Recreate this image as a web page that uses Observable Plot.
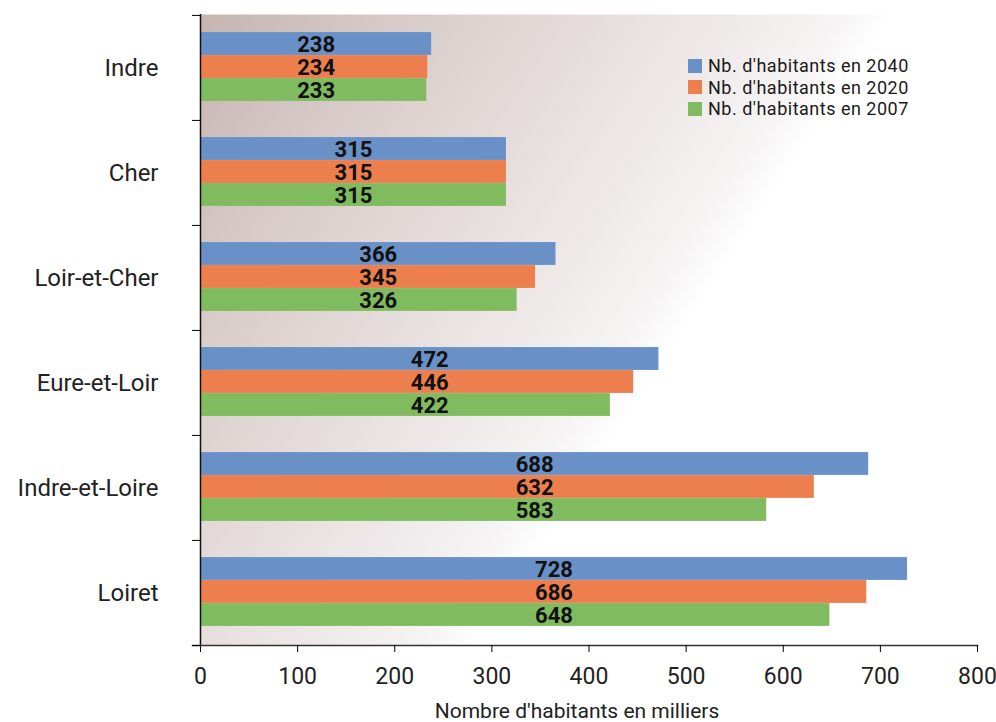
<!DOCTYPE html>
<html><head><meta charset="utf-8">
<script src="https://cdn.jsdelivr.net/npm/d3@7"></script>
<script src="https://cdn.jsdelivr.net/npm/@observablehq/plot@0.6"></script>
<style>
body{margin:0;background:#fff;}
#wrap{position:relative;width:996px;height:722px;}
.legend{position:absolute;left:688px;top:55px;font:18px Roboto, sans-serif;letter-spacing:0.5px;color:#1a1a1a;}
.legend div{display:flex;align-items:center;height:21.5px;white-space:nowrap;}
.legend .sw{width:14px;height:14px;margin-right:6px;display:inline-block;}
</style></head><body><div id="wrap"></div>
<script>
const categories = ["Indre","Cher","Loir-et-Cher","Eure-et-Loir","Indre-et-Loire","Loiret"];
const seriesNames = ["Nb. d'habitants en 2040","Nb. d'habitants en 2020","Nb. d'habitants en 2007"];
const values2040 = [238,315,366,472,688,728];
const values2020 = [234,315,345,446,632,686];
const values2007 = [233,315,326,422,583,648];
const xTicks = [0,100,200,300,400,500,600,700,800];
const xLabel = "Nombre d'habitants en milliers";
const colors = ["#6991c7","#ed7f4e","#80bc5f"];

const W = 996, H = 722, mT = 14, mB = 77, mL = 200, mR = 19;
const bw = (H - mT - mB) / categories.length;
const barH = 23;
const pad = (bw - 3 * barH) / 2 - 1;
const seriesValues = [values2040, values2020, values2007];
const rows = categories.map((c, i) => ({
  cat: c,
  v: seriesValues.map(s => s[i]),
  max: Math.max(...seriesValues.map(s => s[i]))
}));

const marks = [
  Plot.frame({fill: "url(#bgGrad)", stroke: null})
];
seriesValues.forEach((s, k) => {
  marks.push(Plot.barX(rows, {
    y: "cat", x: d => d.v[k], fill: colors[k],
    insetTop: pad + k * barH, insetBottom: bw - pad - (k + 1) * barH
  }));
});
seriesValues.forEach((s, k) => {
  marks.push(Plot.text(rows, {
    y: "cat", x: d => d.max / 2, text: d => String(d.v[k]),
    dy: -bw / 2 + pad + (k + 0.5) * barH + 1,
    fontSize: 22, fontWeight: "bold", fill: "#111"
  }));
});
marks.push(
  Plot.ruleX([0], {stroke: "#111", strokeWidth: 1.5}),
  Plot.frame({anchor: "bottom", stroke: "#333", strokeWidth: 1.5, insetLeft: -8}),
  Plot.axisX({ticks: xTicks, tickSize: 7, tickPadding: 15, fontSize: 23, fill: "#222", label: null}),
  Plot.text([xLabel], {frameAnchor: "bottom", lineAnchor: "middle", dy: 66, dx: -12, fontSize: 21, fill: "#222", text: d => d}),
  Plot.axisY({tickSize: 0, tickPadding: 42, fontSize: 24, fill: "#222", label: null}),
  Plot.axisY({tickSize: 8, tickFormat: () => "", dy: -bw / 2, label: null}),
  Plot.axisY({ticks: [categories[categories.length - 1]], tickSize: 8, tickFormat: () => "", dy: bw / 2, label: null})
);

const chart = Plot.plot({
  width: W, height: H,
  marginTop: mT, marginBottom: mB, marginLeft: mL, marginRight: mR,
  style: {fontFamily: "Roboto, sans-serif", background: "white"},
  x: {domain: [0, 800]},
  y: {domain: categories, padding: 0},
  marks
});

const svg = d3.select(chart);
const defs = svg.insert("defs", ":first-child");
const g = defs.append("linearGradient").attr("id", "bgGrad")
  .attr("gradientUnits", "userSpaceOnUse")
  .attr("x1", mL).attr("y1", mT).attr("x2", 680).attr("y2", 332);
[[0, "#c6b5b1"], [0.35, "#dbcfcd"], [0.7, "#ebe5e4"], [0.93, "#f6f4f4"], [1, "#ffffff"]]
  .forEach(([o, c]) => g.append("stop").attr("offset", o).attr("stop-color", c));

const wrap = document.getElementById("wrap");
wrap.appendChild(chart);
const legend = document.createElement("div");
legend.className = "legend";
seriesNames.forEach((n, k) => {
  const row = document.createElement("div");
  row.innerHTML = `<span class="sw" style="background:${colors[k]}"></span><span></span>`;
  row.lastChild.textContent = n;
  legend.appendChild(row);
});
wrap.appendChild(legend);
</script>
</body></html>
